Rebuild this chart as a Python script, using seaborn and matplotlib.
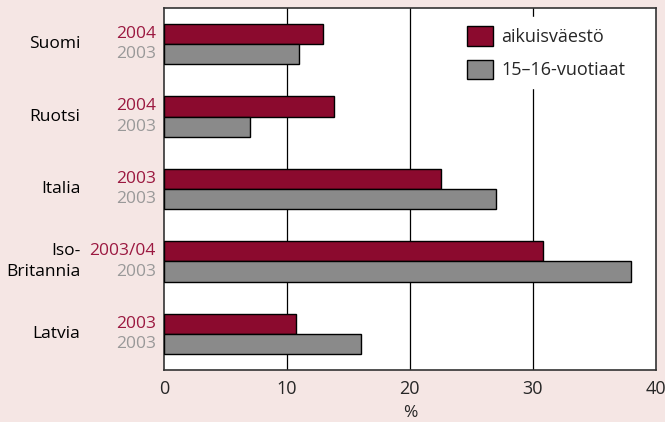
import matplotlib
matplotlib.use("Agg")
import matplotlib.pyplot as plt
import matplotlib.transforms as mtransforms
import pandas as pd
import seaborn as sns

# Data
countries = ["Suomi", "Ruotsi", "Italia", "Iso-\nBritannia", "Latvia"]
adults = [12.9, 13.8, 22.5, 30.8, 10.7]
youth = [11.0, 7.0, 27.0, 38.0, 16.0]
adult_years = ["2004", "2004", "2003", "2003/04", "2003"]
youth_years = ["2003", "2003", "2003", "2003", "2003"]
series_names = ["aikuisväestö", "15–16-vuotiaat"]

RED = "#8B0A2E"
GREY = "#8A8A8A"
BG = "#F5E6E4"

df = pd.DataFrame({
    "maa": countries * 2,
    "arvo": adults + youth,
    "ryhmä": [series_names[0]] * len(countries) + [series_names[1]] * len(countries),
})

sns.set_style("white")
plt.rcParams["font.family"] = ["Open Sans", "DejaVu Sans"]

fig = plt.figure(figsize=(6.65, 4.22), dpi=100, facecolor=BG)
ax = fig.add_axes([0.2466, 0.1232, 0.7394, 0.8578])
ax.set_facecolor("white")

sns.barplot(data=df, y="maa", x="arvo", hue="ryhmä", orient="h",
            palette=[RED, GREY], width=0.56, edgecolor="black",
            linewidth=1.0, saturation=1, ax=ax, zorder=3)

ax.set_xlim(0, 40)
ax.set_ylim(4.5, -0.5)
ax.set_xticks([0, 10, 20, 30, 40])
ax.set_xticklabels(["0", "10", "20", "30", "40"], fontsize=13)
ax.tick_params(axis="x", length=0, pad=7)
ax.set_xlabel("%", fontsize=12.5, labelpad=5)
ax.set_ylabel("")
ax.set_yticks([])
for x in [10, 20, 30]:
    ax.axvline(x, color="black", linewidth=0.9, zorder=1)
for s in ax.spines.values():
    s.set_color("#333333")
    s.set_linewidth(1.2)

# Year labels next to each bar, country names further left
trans = mtransforms.blended_transform_factory(ax.transAxes, ax.transData)
n = len(countries)
for i in range(n):
    red_bar = ax.patches[i]
    grey_bar = ax.patches[n + i]
    yr = red_bar.get_y() + red_bar.get_height() / 2
    yg = grey_bar.get_y() + grey_bar.get_height() / 2
    ax.text(-0.017, yr, adult_years[i], transform=trans, ha="right",
            va="center", fontsize=12.5, color="#9B1840")
    ax.text(-0.017, yg, youth_years[i], transform=trans, ha="right",
            va="center", fontsize=12.5, color="#999999")
    ax.text(-0.17, i, countries[i], transform=trans, ha="right",
            va="center", fontsize=12.5, color="black", linespacing=1.4)

handles, labels = ax.get_legend_handles_labels()
leg = ax.legend(handles, series_names, loc="upper right",
                bbox_to_anchor=(0.975, 1.0), fontsize=13, frameon=True,
                facecolor="white", edgecolor="white", framealpha=1,
                handlelength=1.45, handleheight=1.3, handletextpad=0.45,
                labelspacing=0.75, borderpad=0.5)
leg.set_zorder(5)

fig.savefig("out.png", dpi=100, facecolor=BG)
